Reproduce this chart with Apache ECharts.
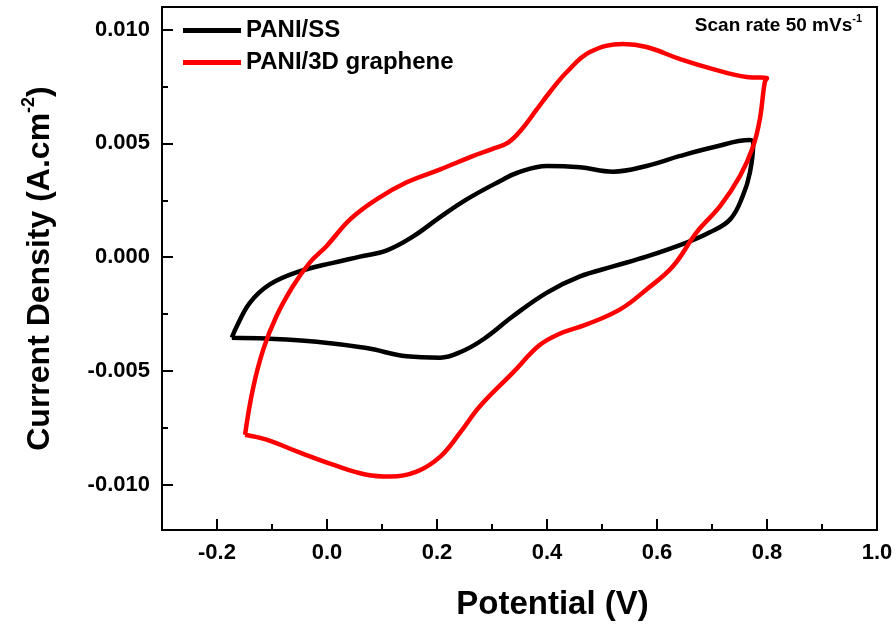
<!DOCTYPE html>
<html>
<head>
<meta charset="utf-8">
<script src="https://cdn.jsdelivr.net/npm/echarts@6/dist/echarts.min.js"></script>
<style>html,body{margin:0;padding:0;background:#fff;}#c{width:896px;height:630px;}</style>
</head>
<body>
<div id="c"></div>
<script>
// Potential (V) and current density (A/cm^2) along each cyclic sweep
const ssPotential = [-0.173,-0.164,-0.140,-0.104,-0.049,0.011,0.060,0.109,0.156,0.205,0.254,0.315,0.345,0.400,0.460,0.520,0.581,0.642,0.702,0.769,0.775,
  0.769,0.756,0.733,0.696,0.655,0.582,0.520,0.460,0.400,0.338,0.285,0.245,0.206,0.145,0.072,-0.019,-0.110,-0.173];
const ssCurrent = [-0.00354,-0.00304,-0.00200,-0.00120,-0.00062,-0.00025,0.00002,0.00030,0.00090,0.00175,0.00254,0.00335,0.00370,0.00401,0.00395,0.00376,0.00401,0.00445,0.00483,0.00515,0.00505,
  0.00373,0.00269,0.00166,0.00109,0.00065,0.00003,-0.00041,-0.00085,-0.00156,-0.00260,-0.00360,-0.00415,-0.00442,-0.00436,-0.00400,-0.00372,-0.00358,-0.00354];

const grPotential = [-0.149,-0.135,-0.116,-0.092,-0.062,-0.031,-0.001,0.042,0.090,0.145,0.206,0.266,0.300,0.330,0.355,0.380,0.405,0.436,0.478,0.538,0.581,0.642,0.702,0.763,0.800,
  0.796,0.787,0.775,0.751,0.715,0.672,0.629,0.581,0.533,0.472,0.420,0.385,0.338,0.278,0.242,0.206,0.163,0.115,0.072,0.011,-0.049,-0.110,-0.149];
const grCurrent = [-0.00781,-0.00583,-0.00407,-0.00260,-0.00128,-0.00023,0.00048,0.00166,0.00254,0.00329,0.00386,0.00445,0.00475,0.00505,0.00565,0.00645,0.00725,0.00814,0.00902,0.00937,0.00924,0.00871,0.00827,0.00792,0.00787,
  0.00770,0.00607,0.00489,0.00357,0.00225,0.00109,-0.00040,-0.00142,-0.00230,-0.00296,-0.00340,-0.00390,-0.00508,-0.00656,-0.00772,-0.00877,-0.00943,-0.00965,-0.00957,-0.00913,-0.00860,-0.00803,-0.00781];

const seriesNames = ['PANI/SS', 'PANI/3D graphene'];
const xMajorTicks = [-0.2, 0.0, 0.2, 0.4, 0.6, 0.8, 1.0];
const xMinorTicks = [-0.1, 0.1, 0.3, 0.5, 0.7, 0.9];
const yMajorTicks = [-0.010, -0.005, 0.000, 0.005, 0.010];
const yMinorTicks = [-0.0075, -0.0025, 0.0025, 0.0075];

const zip = (a, b) => a.map((v, i) => [v, b[i]]);
const FONT = 'Liberation Sans, Arial, sans-serif';
const X_RANGE = { min: -0.3, max: 1.0 };
const Y_RANGE = { min: -0.012, max: 0.011 };

function tickAxis(range, pos, values, len) {
  return Object.assign({
    type: 'value', position: pos,
    axisLine: { show: false, onZero: false },
    axisTick: { show: true, inside: true, length: len, lineStyle: { color: '#000', width: 2 }, customValues: values },
    axisLabel: { show: false }, splitLine: { show: false }
  }, range);
}

const chart = echarts.init(document.getElementById('c'));
chart.setOption({
  animation: false,
  backgroundColor: '#fff',
  grid: { left: 162, right: 19, top: 7, bottom: 100, show: true, borderColor: '#000', borderWidth: 2, backgroundColor: 'transparent' },
  legend: {
    left: 183, top: 17, padding: 0, orient: 'vertical', icon: 'rect', itemWidth: 58, itemHeight: 5, itemGap: 5,
    textStyle: { fontFamily: FONT, fontWeight: 'bold', fontSize: 24, color: '#000', lineHeight: 27 },
    data: seriesNames
  },
  graphic: [{
    type: 'text', right: 34, top: 13,
    style: {
      text: '{a|Scan rate 50 mVs}{s|-1}',
      rich: {
        a: { fontFamily: FONT, fontWeight: 'bold', fontSize: 19, fill: '#000', lineHeight: 22, verticalAlign: 'bottom' },
        s: { fontFamily: FONT, fontWeight: 'bold', fontSize: 11, fill: '#000', lineHeight: 22, verticalAlign: 'top' }
      }
    }
  }],
  xAxis: [Object.assign({
    type: 'value',
    name: 'Potential (V)', nameLocation: 'middle', nameGap: 58,
    nameTextStyle: { fontFamily: FONT, fontWeight: 'bold', fontSize: 33, color: '#000', padding: [0, 0, 0, 66] },
    axisLine: { show: true, onZero: false, lineStyle: { color: '#000', width: 2 } },
    axisTick: { show: false },
    axisLabel: { show: true, margin: 12, customValues: xMajorTicks, formatter: v => v.toFixed(1),
      fontFamily: FONT, fontWeight: 'bold', fontSize: 22, color: '#000' },
    splitLine: { show: false }
  }, X_RANGE),
    tickAxis(X_RANGE, 'bottom', xMajorTicks, 11),
    tickAxis(X_RANGE, 'bottom', xMinorTicks, 6)
  ],
  yAxis: [Object.assign({
    type: 'value',
    name: '{a|Current Density (A.cm}{s|-2}{a|)}', nameLocation: 'middle', nameGap: 106, nameRotate: 90,
    nameTextStyle: {
      rich: {
        a: { fontFamily: FONT, fontWeight: 'bold', fontSize: 32, color: '#000', lineHeight: 36, verticalAlign: 'bottom' },
        s: { fontFamily: FONT, fontWeight: 'bold', fontSize: 18, color: '#000', lineHeight: 36, verticalAlign: 'top' }
      }
    },
    axisLine: { show: true, onZero: false, lineStyle: { color: '#000', width: 2 } },
    axisTick: { show: false },
    axisLabel: { show: true, margin: 12, customValues: yMajorTicks, formatter: v => v.toFixed(3),
      fontFamily: FONT, fontWeight: 'bold', fontSize: 22, color: '#000' },
    splitLine: { show: false }
  }, Y_RANGE),
    tickAxis(Y_RANGE, 'left', yMajorTicks, 11),
    tickAxis(Y_RANGE, 'left', yMinorTicks, 6)
  ],
  series: [{
    name: seriesNames[0], type: 'line', data: zip(ssPotential, ssCurrent),
    showSymbol: false, smooth: 0.4, color: '#000', lineStyle: { width: 4.5, color: '#000' }
  }, {
    name: seriesNames[1], type: 'line', data: zip(grPotential, grCurrent),
    showSymbol: false, smooth: 0.4, color: '#ff0000', lineStyle: { width: 4.5, color: '#ff0000' }
  }]
});
</script>
</body>
</html>
